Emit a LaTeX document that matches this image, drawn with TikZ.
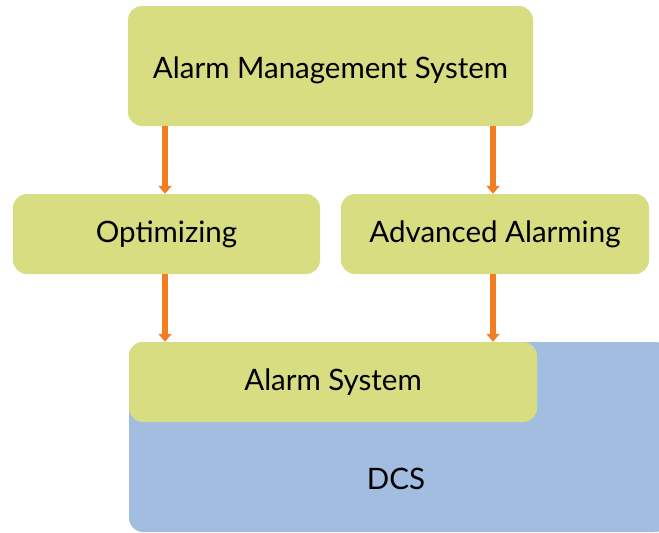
\documentclass[tikz,border=0pt]{standalone}
\usepackage{fontspec}
\setmainfont{Lato}
\usetikzlibrary{arrows.meta}
\definecolor{boxgreen}{RGB}{216,221,130}
\definecolor{dcsblue}{RGB}{163,189,225}
\definecolor{arroworange}{RGB}{242,125,34}
\tikzset{
	greenbox/.style={fill=boxgreen, rounded corners=14pt, inner sep=0pt, font=\fontsize{29.5}{32}\selectfont},
	flow/.style={draw=arroworange, line width=5.5pt, -{Triangle[width=13pt,length=8pt]}}
}
\begin{document}
\begin{tikzpicture}[x=1pt, y=-1pt]
		\useasboundingbox (0,0) rectangle (659,533);
		% DCS
		\node[fill=dcsblue, rounded corners=14pt, minimum width=540pt, minimum height=190pt, inner sep=0pt] (dcs) at (399,437) {};
		\node[font=\fontsize{29.5}{32}\selectfont] (dcslabel) at (396,479) {DCS};
		% Boxes
		\node[greenbox, minimum width=405pt, minimum height=120pt] (ams) at (330.5,66) {\raisebox{-12pt}[0pt][0pt]{Alarm Management System}};
		\node[greenbox, minimum width=307pt, minimum height=80pt] (opt) at (166.5,234) {Optimizing};
		\node[greenbox, minimum width=308pt, minimum height=80pt] (adv) at (495,234) {Advanced Alarming};
		\node[greenbox, minimum width=408pt, minimum height=80pt] (alarm) at (333,382) {Alarm System};
		% Arrows
		\draw[flow] (ams.south -| 165,0) -- (opt.north -| 165,0);
		\draw[flow] (ams.south -| 493,0) -- (adv.north -| 493,0);
		\draw[flow] (opt.south -| 165,0) -- (alarm.north -| 165,0);
		\draw[flow] (adv.south -| 493,0) -- (alarm.north -| 493,0);
	\end{tikzpicture}
\end{document}
